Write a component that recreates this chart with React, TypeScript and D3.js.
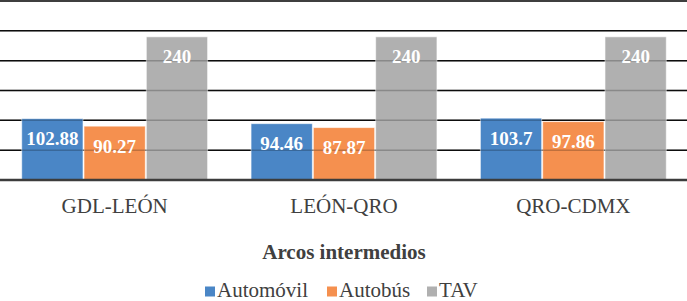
import React from "react";
import * as d3 from "d3";

const categories = ["GDL-LEÓN", "LEÓN-QRO", "QRO-CDMX"];
const seriesNames = ["Automóvil", "Autobús", "TAV"];
const automovil = [102.88, 94.46, 103.7];
const autobus = [90.27, 87.87, 97.86];
const tav = [240, 240, 240];
const gridTicks = [50, 100, 150, 200, 250, 300];
const colors = ["#4A86C6", "#F5904F", "#B0B0B0"];
const axisTitle = "Arcos intermedios";

const W = 687;
const H = 301;
const FONT =
  "'Times New Roman', Times, Tinos, 'Liberation Serif', 'DejaVu Serif', 'Noto Serif', FreeSerif, 'Nimbus Roman', 'Nimbus Roman No9 L', Georgia, serif";

export default function App() {
  const series = [automovil, autobus, tav];
  const x0 = d3.scaleBand<string>().domain(categories).range([0, 688]).paddingInner(0.185).paddingOuter(0.0925);
  const x1 = d3.scaleBand<string>().domain(seriesNames).range([0, x0.bandwidth()]).padding(0);
  const y = d3.scaleLinear().domain([0, 300]).range([180, 1]);

  const bars: { x: number; y: number; w: number; h: number; c: string; v: number }[] = [];
  categories.forEach((cat, i) => {
    seriesNames.forEach((s, j) => {
      const v = series[j][i];
      bars.push({
        x: (x0(cat) ?? 0) + (x1(s) ?? 0),
        y: y(v),
        w: x1.bandwidth(),
        h: y(0) - y(v),
        c: colors[j],
        v,
      });
    });
  });

  const legendX = [205, 327, 427];
  const txt = { fontFamily: FONT } as React.CSSProperties;

  return (
    <svg width={W} height={H} style={{ position: "absolute", left: 0, top: 0, background: "#fff" }}>
      {gridTicks.map((t) => (
        <line key={"g" + t} x1={0} x2={W} y1={y(t)} y2={y(t)} stroke="#111" strokeWidth={1.5} />
      ))}
      {bars.map((b, i) => (
        <rect key={"b" + i} x={b.x + 0.5} y={b.y} width={b.w - 1} height={b.h} fill={b.c} stroke="#fff" strokeOpacity={0.6} strokeWidth={1} />
      ))}
      {gridTicks.map((t) => (
        <line key={"go" + t} x1={0} x2={W} y1={y(t)} y2={y(t)} stroke="#000" strokeOpacity={0.22} strokeWidth={1.5} />
      ))}
      <line x1={0} x2={W} y1={y(0)} y2={y(0)} stroke="#3c3c3c" strokeWidth={2.6} />
      {bars.map((b, i) => (
        <text key={"l" + i} x={b.x + b.w / 2} y={b.y + 26.5} textAnchor="middle" fill="#fff" style={txt} fontWeight="bold" fontSize={19}>
          {b.v}
        </text>
      ))}
      {categories.map((c) => (
        <text key={"c" + c} x={(x0(c) ?? 0) + x0.bandwidth() / 2} y={213} textAnchor="middle" fill="#404040" style={txt} fontSize={21}>
          {c}
        </text>
      ))}
      <text x={344} y={259} textAnchor="middle" fill="#404040" style={txt} fontWeight="bold" fontSize={21}>
        {axisTitle}
      </text>
      {seriesNames.map((s, j) => (
        <g key={"lg" + s}>
          <rect x={legendX[j]} y={286.5} width={10} height={10} fill={colors[j]} />
          <text x={legendX[j] + 12} y={297} fill="#404040" style={txt} fontSize={21}>
            {s}
          </text>
        </g>
      ))}
    </svg>
  );
}
